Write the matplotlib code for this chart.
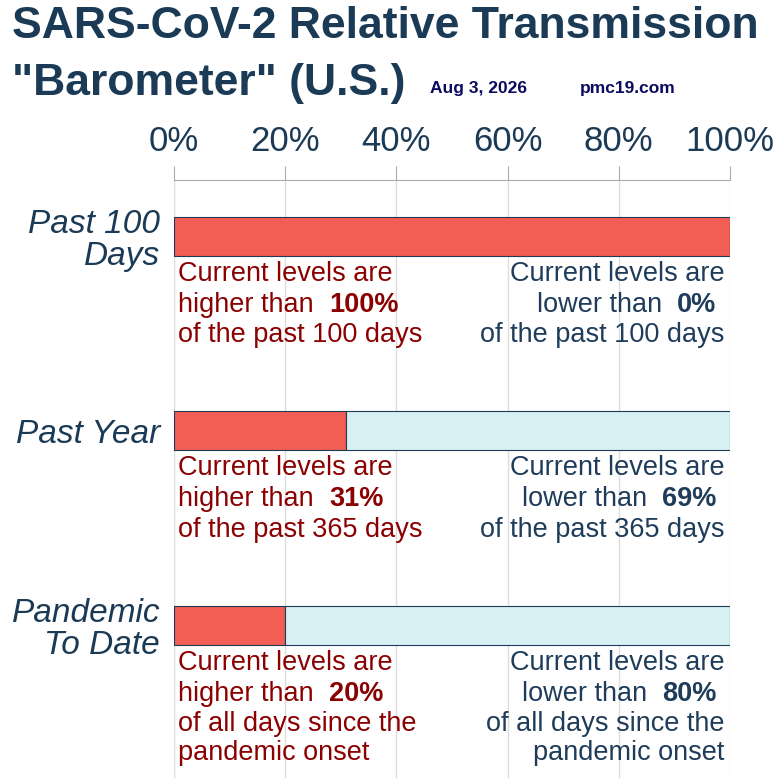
import matplotlib
matplotlib.use("Agg")
import matplotlib.pyplot as plt

categories = ["Past 100\nDays", "Past Year", "Pandemic\nTo Date"]
higher = [100, 31, 20]
lower = [0, 69, 80]
periods = ["of the past 100 days", "of the past 365 days", "of all days since the\npandemic onset"]
ticks = [0, 20, 40, 60, 80, 100]

plt.rcParams['font.family'] = ['Liberation Sans', 'DejaVu Sans']
RED = '#f25d54'; BLUE = '#d7f0f3'; EDGE = '#1f3a55'
DRED = '#8b0000'; DBLUE = '#1f3c5a'; TITLE = '#1a3a55'

fig = plt.figure(figsize=(7.84, 7.78), dpi=100)
ax = fig.add_axes([174/784, 0, (730-174)/784, 1-180/778])
ax.set_xlim(0, 100)
ax.set_ylim(2.784, -0.29)

ys = list(range(len(categories)))
ax.barh(ys, higher, height=0.2, color=RED, edgecolor=EDGE, linewidth=0.8, zorder=3)
ax.barh(ys, lower, left=higher, height=0.2, color=BLUE, edgecolor=EDGE, linewidth=0.8, zorder=3)

ax.xaxis.tick_top()
ax.set_xticks(ticks)
ax.set_xticklabels([f"{t}%" for t in ticks], fontsize=25, color=TITLE)
ax.tick_params(axis='x', length=10, color='#aaaaaa', pad=6)
ax.set_yticks(ys)
ax.set_yticklabels(categories, fontsize=24, style='italic', color=TITLE, ha='right', linespacing=1.05)
ax.tick_params(axis='y', length=0, pad=10)
ax.grid(axis='x', color='#dddddd', lw=1, zorder=0)
for s in ['right', 'bottom']:
    ax.spines[s].set_visible(False)
ax.spines['top'].set_color('#aaaaaa')
ax.spines['left'].set_color('#dddddd')

fs = 19.5
step = 0.159
for y, h, l, p in zip(ys, higher, lower, periods):
    y1 = y + 0.193
    ax.text(0.8, y1, "Current levels are", fontsize=fs, color=DRED, va='center', ha='left')
    t = ax.text(0.8, y1 + step, "higher than  ", fontsize=fs, color=DRED, va='center', ha='left')
    ax.annotate(f"{h}%", xy=(1, 0), xycoords=t, fontsize=fs, color=DRED, weight='bold', va='bottom', ha='left')
    ax.text(0.8, y1 + 2*step - 0.07, p, fontsize=fs, color=DRED, va='top', ha='left', linespacing=1.12)
    ax.text(99.0, y1, "Current levels are", fontsize=fs, color=DBLUE, va='center', ha='right')
    b = ax.text(99.0 - 1.5, y1 + step, f"{l}%", fontsize=fs, color=DBLUE, weight='bold', va='center', ha='right')
    ax.annotate("lower than  ", xy=(0, 0), xycoords=b, fontsize=fs, color=DBLUE, va='bottom', ha='right')
    ax.text(99.0, y1 + 2*step - 0.07, p, fontsize=fs, color=DBLUE, va='top', ha='right', linespacing=1.12)

fig.text(12/784, 1-27/778, "SARS-CoV-2 Relative Transmission", fontsize=32, weight='bold', color=TITLE, va='center')
fig.text(12/784, 1-83/778, "\"Barometer\" (U.S.)", fontsize=32, weight='bold', color=TITLE, va='center')
fig.text(430/784, 1-88/778, "Aug 3, 2026", fontsize=12.5, weight='bold', color='#0a0a60', va='center')
fig.text(580/784, 1-88/778, "pmc19.com", fontsize=12.5, weight='bold', color='#0a0a60', va='center')

fig.savefig("out.png", dpi=100)
